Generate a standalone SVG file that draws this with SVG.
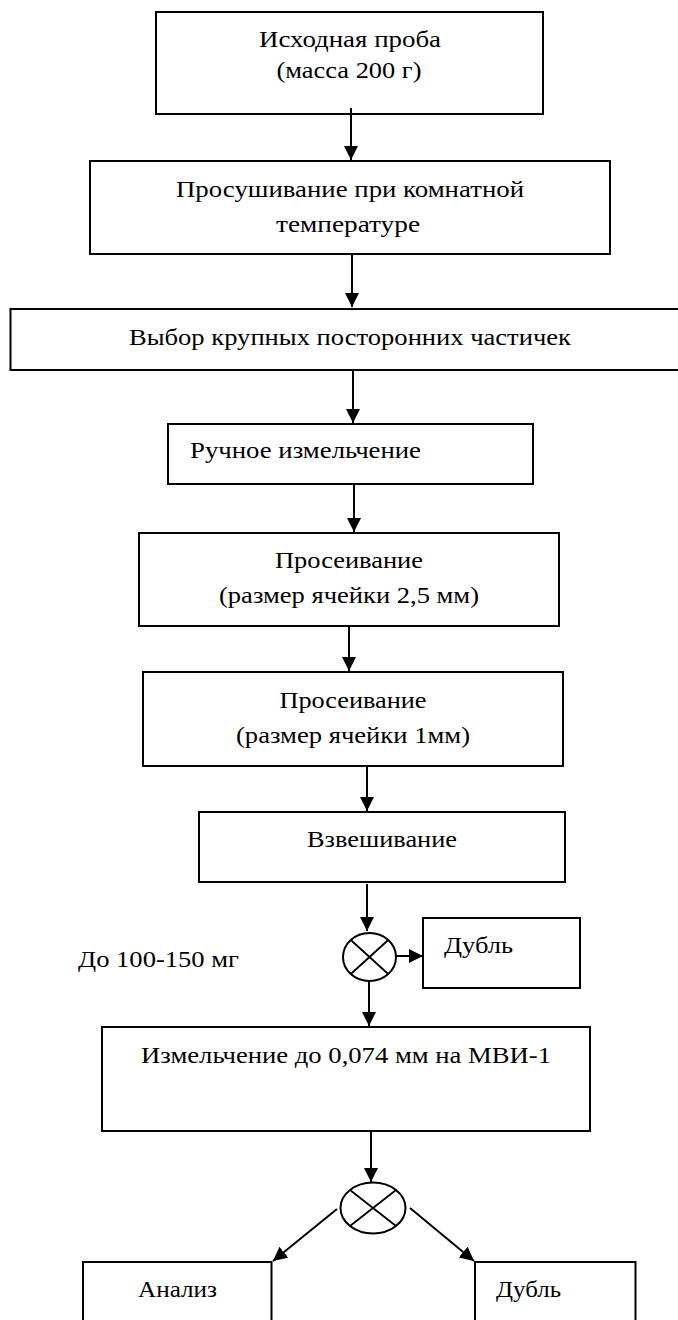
<svg xmlns="http://www.w3.org/2000/svg" width="678" height="1320" viewBox="0 0 678 1320">
<style>
.box{fill:#fff;stroke:#000;stroke-width:2}
.t{font-family:"Liberation Serif","Times New Roman",serif;font-size:24px;fill:#000}
.m{text-anchor:middle}
.c{stroke:#000;stroke-width:2;fill:none}
.x{stroke:#000;stroke-width:1.8;fill:none}
</style>
<defs>
<marker id="ah" markerUnits="userSpaceOnUse" markerWidth="15" markerHeight="15" viewBox="0 0 15 15" refX="14" refY="7" orient="auto">
<path d="M0,0 L14,7 L0,14 z" fill="#000"/>
</marker>
</defs>
<rect width="678" height="1320" fill="#fff"/>
<g id="n1"><rect class="box" x="156" y="12" width="387" height="102"/>
<text class="t m" x="350" y="47" textLength="182" lengthAdjust="spacingAndGlyphs">Исходная проба</text>
<text class="t m" x="349" y="78" textLength="145" lengthAdjust="spacingAndGlyphs">(масса 200 г)</text></g>
<g id="n2"><rect class="box" x="90" y="161" width="520" height="93"/>
<text class="t m" x="350" y="197" textLength="348" lengthAdjust="spacingAndGlyphs">Просушивание при комнатной</text>
<text class="t m" x="348" y="232" textLength="144" lengthAdjust="spacingAndGlyphs">температуре</text></g>
<g id="n3"><rect class="box" x="10.5" y="309" width="690" height="61"/>
<text class="t m" x="350" y="345" textLength="442" lengthAdjust="spacingAndGlyphs">Выбор крупных посторонних частичек</text></g>
<g id="n4"><rect class="box" x="168" y="424" width="365" height="60"/>
<text class="t" x="190" y="458" textLength="231" lengthAdjust="spacingAndGlyphs">Ручное измельчение</text></g>
<g id="n5"><rect class="box" x="139" y="533" width="420" height="93"/>
<text class="t m" x="349" y="568" textLength="148" lengthAdjust="spacingAndGlyphs">Просеивание</text>
<text class="t m" x="349" y="603" textLength="260" lengthAdjust="spacingAndGlyphs">(размер ячейки 2,5 мм)</text></g>
<g id="n6"><rect class="box" x="143" y="672" width="420" height="94"/>
<text class="t m" x="353" y="708" textLength="147" lengthAdjust="spacingAndGlyphs">Просеивание</text>
<text class="t m" x="353" y="743" textLength="234" lengthAdjust="spacingAndGlyphs">(размер ячейки 1мм)</text></g>
<g id="n7"><rect class="box" x="199" y="812" width="366" height="70"/>
<text class="t m" x="382" y="847" textLength="150" lengthAdjust="spacingAndGlyphs">Взвешивание</text></g>
<g id="s1"><ellipse class="c" cx="369.5" cy="957" rx="26.5" ry="24"/>
<path class="x" d="M350.8,940 L388.2,974 M388.2,940 L350.8,974"/></g>
<g id="n8"><rect class="box" x="423" y="918" width="157" height="70"/>
<text class="t" x="444" y="953" textLength="69" lengthAdjust="spacingAndGlyphs">Дубль</text></g>
<g id="lbl"><text class="t" x="78" y="967" textLength="161" lengthAdjust="spacingAndGlyphs">До 100-150 мг</text></g>
<g id="n9"><rect class="box" x="102" y="1027" width="488" height="104"/>
<text class="t m" x="346" y="1063" textLength="410" lengthAdjust="spacingAndGlyphs">Измельчение до 0,074 мм на МВИ-1</text></g>
<g id="s2"><ellipse class="c" cx="373" cy="1208" rx="32.5" ry="25.5"/>
<path class="x" d="M350,1190 L396,1226 M396,1190 L350,1226"/></g>
<g id="n10"><rect class="box" x="83" y="1262" width="188.5" height="70"/>
<text class="t m" x="177.5" y="1297" textLength="79" lengthAdjust="spacingAndGlyphs">Анализ</text></g>
<g id="n11"><rect class="box" x="475" y="1262" width="160.5" height="70"/>
<text class="t" x="496" y="1297" textLength="65" lengthAdjust="spacingAndGlyphs">Дубль</text></g>
<g id="connectors" class="c" marker-end="url(#ah)">
<line x1="351" y1="108" x2="351" y2="160"/>
<line x1="352" y1="254" x2="352" y2="307"/>
<line x1="353" y1="370" x2="353" y2="423"/>
<line x1="354" y1="484" x2="354" y2="532"/>
<line x1="349" y1="626" x2="349" y2="671"/>
<line x1="367" y1="766" x2="367" y2="811"/>
<line x1="367" y1="884" x2="367" y2="931"/>
<line x1="396" y1="956" x2="423" y2="956"/>
<line x1="369" y1="981" x2="369" y2="1026"/>
<line x1="371" y1="1131" x2="371" y2="1182"/>
<line x1="337" y1="1209" x2="273" y2="1261"/>
<line x1="410" y1="1208" x2="474" y2="1261"/>
</g>
</svg>
